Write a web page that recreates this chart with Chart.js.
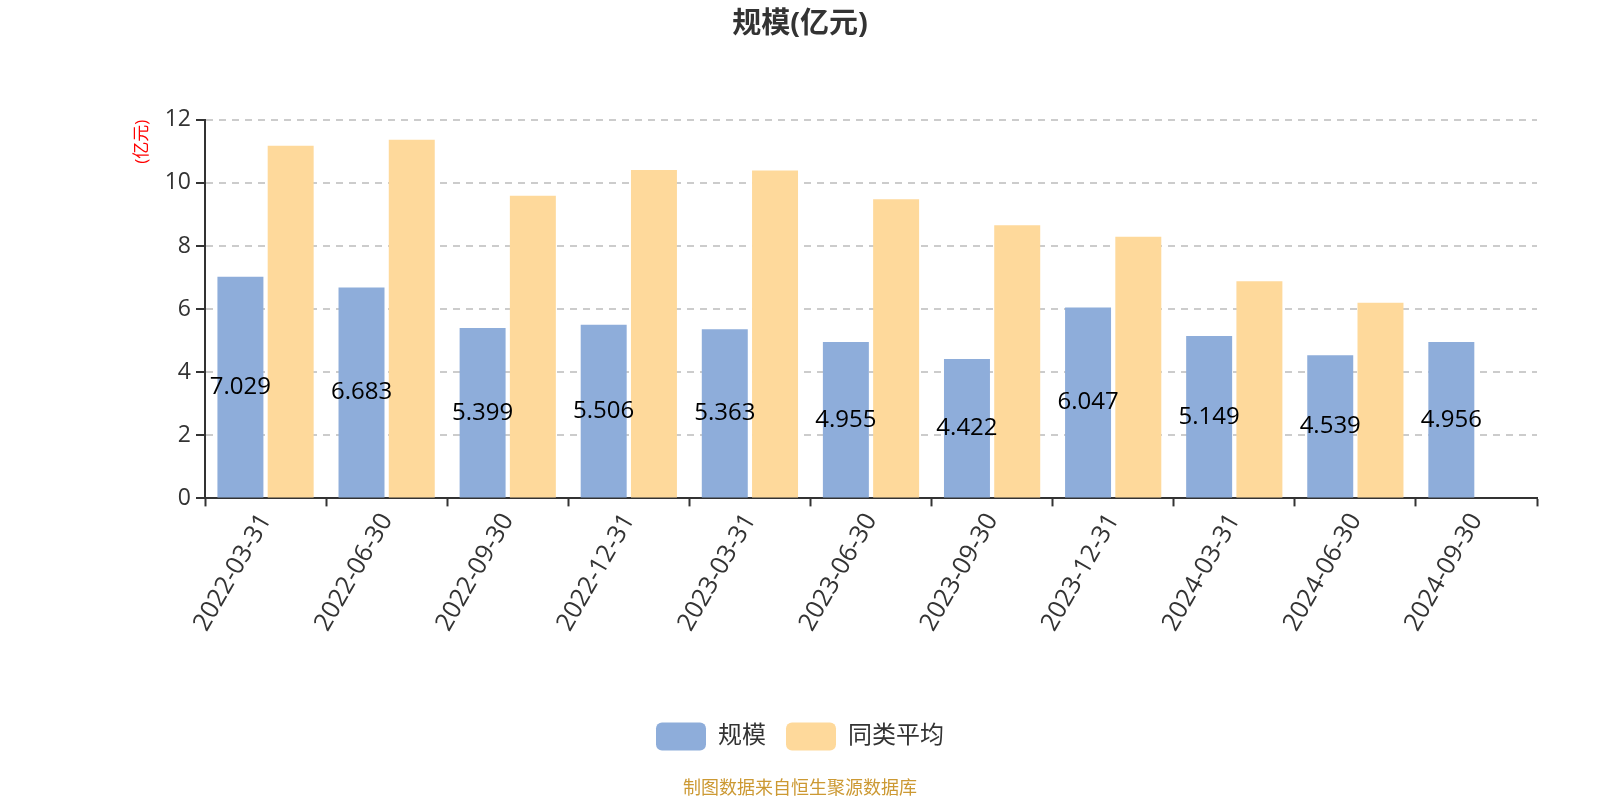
<!DOCTYPE html>
<html>
<head>
<meta charset="utf-8">
<script src="https://cdn.jsdelivr.net/npm/chart.js@4/dist/chart.umd.min.js"></script>
<style>
  html, body { margin: 0; padding: 0; background: #ffffff; }
  #wrap { width: 1600px; height: 800px; position: relative; }
</style>
</head>
<body>
<div id="wrap"><canvas id="c" width="1600" height="800"></canvas></div>
<script>
const categories = ['2022-03-31','2022-06-30','2022-09-30','2022-12-31','2023-03-31','2023-06-30','2023-09-30','2023-12-31','2024-03-31','2024-06-30','2024-09-30'];
const scaleValues = [7.029, 6.683, 5.399, 5.506, 5.363, 4.955, 4.422, 6.047, 5.149, 4.539, 4.956];
const peerAverage = [11.18, 11.37, 9.59, 10.41, 10.39, 9.48, 8.66, 8.29, 6.88, 6.20, null];
const seriesNames = ['规模', '同类平均'];
const yTicks = [0, 2, 4, 6, 8, 10, 12];

const FONT = "'Open Sans', 'Noto Sans CJK SC', 'Noto Sans', sans-serif";

const valueLabels = {
  id: 'valueLabels',
  afterDatasetsDraw(chart) {
    const ctx = chart.ctx;
    const meta = chart.getDatasetMeta(0);
    ctx.save();
    ctx.font = "24px " + FONT;
    ctx.fillStyle = '#000000';
    ctx.textAlign = 'center';
    ctx.textBaseline = 'middle';
    meta.data.forEach((bar, i) => {
      const v = scaleValues[i];
      if (v == null) return;
      const y = (bar.y + bar.base) / 2;
      ctx.fillText(v.toFixed(3), bar.x, y);
    });
    ctx.restore();
  }
};

new Chart(document.getElementById('c'), {
  type: 'bar',
  data: {
    labels: categories,
    datasets: [
      { label: seriesNames[0], data: scaleValues, backgroundColor: '#8EADDA', borderWidth: 0 },
      { label: seriesNames[1], data: peerAverage, backgroundColor: '#FED99B', borderWidth: 0 }
    ]
  },
  options: {
    responsive: false,
    animation: false,
    devicePixelRatio: 1,
    datasets: { bar: { categoryPercentage: 0.83, barPercentage: 0.915 } },
    layout: { padding: 0 },
    plugins: {
      title: {
        display: true,
        text: '规模(亿元)',
        color: '#333333',
        font: { family: FONT, size: 29, weight: 'bold' },
        padding: { top: 7, bottom: 78 }
      },
      subtitle: {
        display: true,
        position: 'bottom',
        text: '制图数据来自恒生聚源数据库',
        color: '#CC9933',
        font: { family: FONT, size: 18 },
        padding: { top: 18, bottom: 0 }
      },
      legend: {
        display: true,
        position: 'bottom',
        labels: {
          color: '#333333',
          font: { family: FONT, size: 24 },
          boxWidth: 50,
          boxHeight: 28,
          useBorderRadius: true,
          borderRadius: 6,
          padding: 20
        }
      },
      tooltip: { enabled: false }
    },
    scales: {
      x: {
        offset: true,
        grid: { display: true, drawOnChartArea: false, drawTicks: true, tickLength: 8, tickColor: '#333333', tickWidth: 2 },
        border: { color: '#333333', width: 2 },
        ticks: {
          color: '#333333',
          font: { family: FONT, size: 25 },
          maxRotation: 60,
          minRotation: 60,
          padding: 2,
          autoSkip: false
        },
        afterFit(scale) { scale.height = 204; }
      },
      y: {
        min: 0,
        max: 12,
        afterBuildTicks(scale) { scale.ticks = yTicks.map(v => ({ value: v })); },
        grid: { color: '#CCCCCC', lineWidth: 2, drawTicks: true, tickLength: 9, tickColor: '#333333', tickWidth: 2, tickBorderDash: [] },
        border: { color: '#333333', width: 2, dash: [7, 6] },
        ticks: { color: '#333333', font: { family: FONT, size: 23 }, padding: 5 },
        title: {
          display: true,
          text: '(亿元)',
          color: '#FF0000',
          align: 'end',
          font: { family: FONT, size: 17 },
          padding: { top: 132, bottom: 0 }
        },
        afterFit(scale) { scale.width = 205; }
      },
      yRight: {
        position: 'right',
        display: true,
        grid: { display: false, drawTicks: false },
        border: { display: false },
        ticks: { display: false },
        afterFit(scale) { scale.width = 63; }
      }
    }
  },
  plugins: [valueLabels]
});
</script>
</body>
</html>
